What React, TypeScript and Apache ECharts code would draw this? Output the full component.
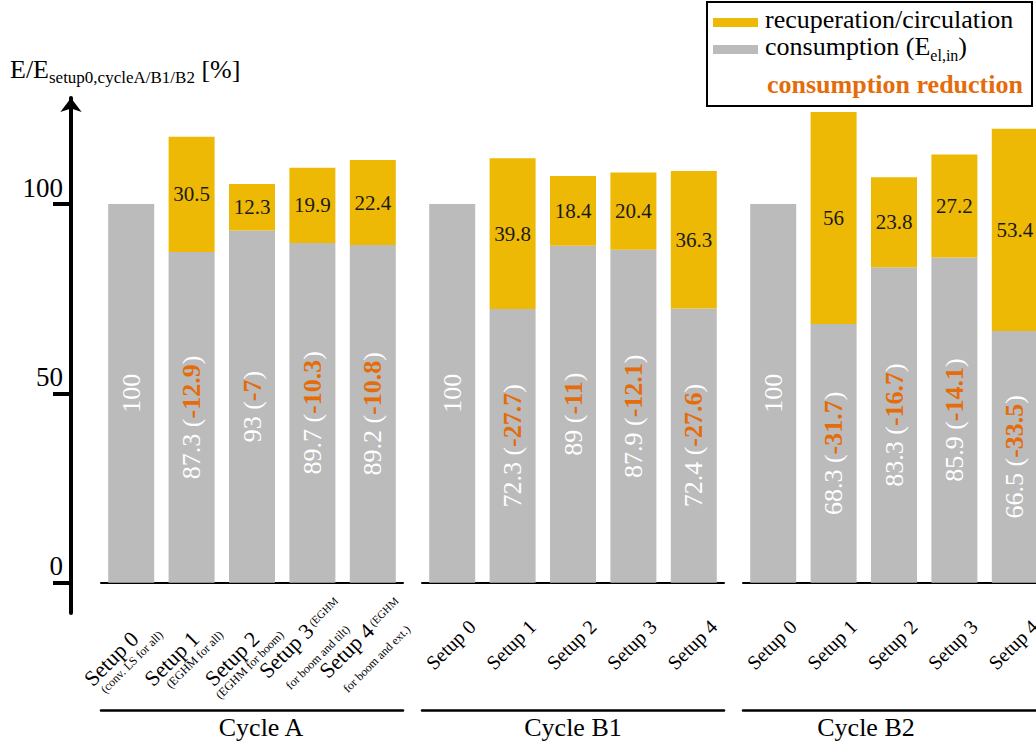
import React, { useEffect, useRef } from "react";
import * as echarts from "echarts";

// ---- data -------------------------------------------------------------
const cycles = ["Cycle A", "Cycle B1", "Cycle B2"];

const setupLabelsA = [
  "{big|Setup 0}{g|}\n{sm|(conv. LS for all)}",
  "{big|Setup 1}{g|}\n{sm|(EGHM for all)}",
  "{big|Setup 2}{g|}\n{sm|(EGHM for boom)}",
  "{big|Setup 3}{smt| (EGHM}\n{sm2|for boom and tilt)}{g2|}",
  "{big|Setup 4}{smt| (EGHM}\n{sm2|for boom and ext.)}{g2|}",
];
const setupLabelsB = ["Setup 0", "Setup 1", "Setup 2", "Setup 3", "Setup 4"];

// consumption (E_el,in) relative to setup 0 of the same cycle [%]
const consumptionA = [100, 87.3, 93, 89.7, 89.2];
const consumptionB1 = [100, 72.3, 89, 87.9, 72.4];
const consumptionB2 = [100, 68.3, 83.3, 85.9, 66.5];

// recuperated / circulated energy [%]
const recuperationA = [null, 30.5, 12.3, 19.9, 22.4];
const recuperationB1 = [null, 39.8, 18.4, 20.4, 36.3];
const recuperationB2 = [null, 56, 23.8, 27.2, 53.4];

// consumption reduction against setup 0 [%-points]
const reductionA = [null, -12.9, -7, -10.3, -10.8];
const reductionB1 = [null, -27.7, -11, -12.1, -27.6];
const reductionB2 = [null, -31.7, -16.7, -14.1, -33.5];

const yTicks = [0, 50, 100];

// ---- styling ----------------------------------------------------------
const FONT = "Liberation Serif";
const GRAY = "#BBBBBB";
const GOLD = "#EDB905";
const ORANGE = "#E46C0A";
const INK = "#1a1a1a";

const gridLefts = [101, 422, 743];
const GRID_W = 302;
const GRID_TOP = 98;
const GRID_H = 515;
// horizontal nudge of each cycle caption (padding left / right)
const cyclePad = [
  [0, 0, 0, 18],
  [0, 0, 0, 0],
  [0, 56, 0, 0],
];

export default function App() {
  const ref = useRef<HTMLDivElement>(null);

  useEffect(() => {
    if (!ref.current) return;
    const chart = echarts.init(ref.current, undefined, { renderer: "svg" });

    const consumption = [consumptionA, consumptionB1, consumptionB2];
    const recuperation = [recuperationA, recuperationB1, recuperationB2];
    const reduction = [reductionA, reductionB1, reductionB2];

    const grids = gridLefts.map((left) => ({
      left,
      top: GRID_TOP,
      width: GRID_W,
      height: GRID_H,
    }));

    const xAxes: any[] = [];
    const yAxes: any[] = [];
    const series: any[] = [];

    const richA = {
      big: { fontFamily: FONT, fontSize: 22, lineHeight: 18, color: "#000", verticalAlign: "bottom" },
      sm: { fontFamily: FONT, fontSize: 12, color: "#000", verticalAlign: "bottom" },
      sm2: { fontFamily: FONT, fontSize: 12, lineHeight: 17, color: "#000", verticalAlign: "bottom" },
      smt: { fontFamily: FONT, fontSize: 11, color: "#000", verticalAlign: "top" },
      g: { width: 20 },
      g2: { width: 12 },
    };

    cycles.forEach((cycle, i) => {
      const isA = i === 0;
      const catData = isA
        ? setupLabelsA.map((v, k) =>
            k >= 3
              ? {
                  value: v,
                  textStyle: { align: "right", verticalAlign: "top", padding: [28, 0, 0, 0] },
                }
              : v
          )
        : setupLabelsB;
      xAxes.push({
        type: "category",
        gridIndex: i,
        data: catData,
        axisLine: { onZero: true, lineStyle: { color: "#000", width: 2 } },
        axisTick: { show: false },
        axisLabel: {
          interval: 0,
          rotate: 45,
          align: "right",
          verticalAlign: "top",
          margin: isA ? -38 : -18,
          padding: isA ? [34, 20, 0, 0] : [24, 6, 0, 0],
          fontFamily: FONT,
          fontSize: isA ? 22 : 20,
          color: "#000",
          rich: isA ? richA : undefined,
        },
      });
      xAxes.push({
        type: "category",
        gridIndex: i,
        position: "bottom",
        offset: 97,
        data: [cycle],
        axisLine: { onZero: false, lineStyle: { color: "#000", width: 2.5 } },
        axisTick: { show: false },
        axisLabel: {
          fontFamily: FONT,
          fontSize: 26,
          color: "#000",
          margin: 4,
          padding: cyclePad[i],
        },
      });

      yAxes.push({
        type: "value",
        gridIndex: i,
        min: -8,
        max: 128,
        show: isA,
        offset: 30,
        splitLine: { show: false },
        axisLine: {
          show: true,
          symbol: ["none", "arrow"],
          symbolSize: [16, 14],
          lineStyle: { color: "#000", width: 4 },
        },
        axisTick: {
          show: true,
          customValues: yTicks,
          length: 18,
          lineStyle: { color: "#000", width: 4 },
        },
        axisLabel: {
          customValues: yTicks,
          fontFamily: FONT,
          fontSize: 27,
          color: "#000",
          margin: 8,
          verticalAlign: "bottom",
          padding: [0, 0, 3, 0],
        },
      });

      series.push({
        name: "consumption",
        type: "bar",
        stack: "s" + i,
        xAxisIndex: i * 2,
        yAxisIndex: i,
        barWidth: 46,
        data: consumption[i],
        itemStyle: { color: GRAY },
        label: {
          show: true,
          position: "inside",
          rotate: 90,
          fontFamily: FONT,
          fontSize: 26,
          color: "#fff",
          formatter: (p: any) => {
            const r = reduction[i][p.dataIndex];
            return r == null ? `{w|${p.value}}` : `{w|${p.value} (}{o|${r}}{w|)}`;
          },
          rich: {
            w: { fontFamily: FONT, fontSize: 26, color: "#fff" },
            o: { fontFamily: FONT, fontSize: 26, color: ORANGE, fontWeight: "bold" },
          },
        },
      });
      series.push({
        name: "recuperation",
        type: "bar",
        stack: "s" + i,
        xAxisIndex: i * 2,
        yAxisIndex: i,
        barWidth: 46,
        data: recuperation[i],
        itemStyle: { color: GOLD },
        label: {
          show: true,
          position: "inside",
          fontFamily: FONT,
          fontSize: 21,
          color: INK,
        },
      });
    });

    const subRich = {
      b: { fontFamily: FONT, fontSize: 26, fill: "#000", verticalAlign: "bottom", padding: [0, 0, 4, 0] },
      s: { fontFamily: FONT, fontSize: 17, fill: "#000", verticalAlign: "bottom" },
    };

    chart.setOption({
      animation: false,
      backgroundColor: "#fff",
      grid: grids,
      xAxis: xAxes,
      yAxis: yAxes,
      series,
      graphic: [
        {
          type: "text",
          left: 10,
          top: 56,
          style: {
            text: "{b|E/E}{s|setup0,cycleA/B1/B2}{b| [%]}",
            rich: subRich,
          },
        },
        {
          type: "rect",
          shape: { x: 707, y: 2, width: 325, height: 104 },
          style: { fill: "#fff", stroke: "#000", lineWidth: 2 },
        },
        {
          type: "rect",
          shape: { x: 713, y: 18, width: 45, height: 9 },
          style: { fill: GOLD },
        },
        {
          type: "rect",
          shape: { x: 713, y: 45, width: 45, height: 9 },
          style: { fill: GRAY },
        },
        {
          type: "text",
          x: 765,
          y: 19,
          style: {
            text: "{t|recuperation/circulation}",
            verticalAlign: "middle",
            rich: { t: { fontFamily: FONT, fontSize: 26, fill: "#000" } },
          },
        },
        {
          type: "text",
          x: 765,
          y: 63,
          style: {
            text: "{b|consumption (E}{s|el,in}{b|)}",
            verticalAlign: "bottom",
            rich: {
              b: { fontFamily: FONT, fontSize: 26, fill: "#000", verticalAlign: "bottom", padding: [0, 0, 4, 0] },
              s: { fontFamily: FONT, fontSize: 16, fill: "#000", verticalAlign: "bottom" },
            },
          },
        },
        {
          type: "text",
          x: 767,
          y: 84,
          style: {
            text: "{r|consumption reduction}",
            verticalAlign: "middle",
            rich: { r: { fontFamily: FONT, fontSize: 26, fontWeight: "bold", fill: ORANGE } },
          },
        },
      ],
    });

    return () => chart.dispose();
  }, []);

  return (
    <div style={{ position: "fixed", left: 0, top: 0, width: 1036, height: 744, overflow: "hidden" }}>
      <div ref={ref} style={{ width: 1050, height: 744 }} />
    </div>
  );
}
